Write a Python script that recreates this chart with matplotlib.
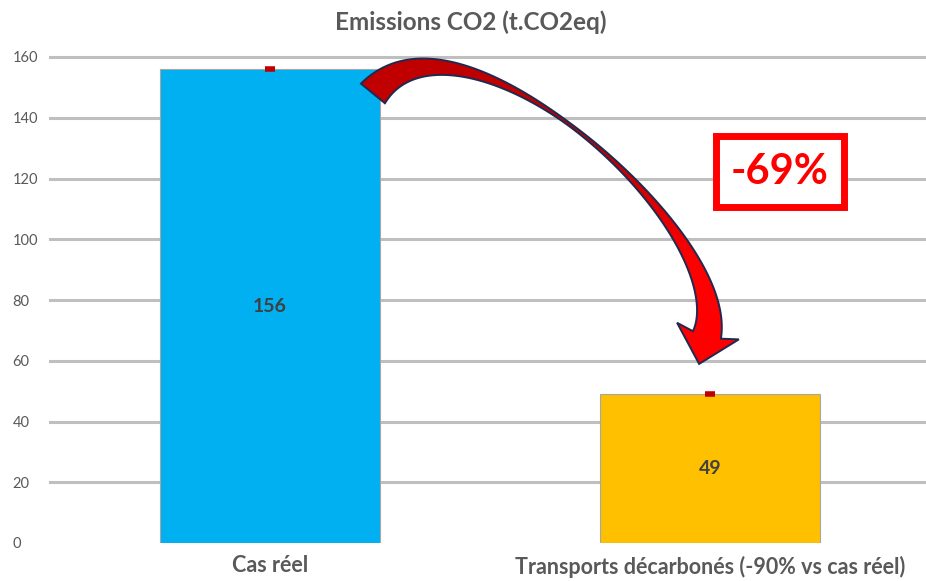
import numpy as np
import matplotlib.pyplot as plt
from matplotlib.patches import Polygon, Rectangle
from matplotlib.colors import LinearSegmentedColormap

# data
categories = ["Cas réel", "Transports décarbonés (-90% vs cas réel)"]
emissions = [156, 49]
bar_colors = ["#00b0f0", "#ffc000"]
yticks = [0, 20, 40, 60, 80, 100, 120, 140, 160]
title = "Emissions CO2 (t.CO2eq)"
reduction_label = "-69%"

plt.rcParams['font.family'] = ['Lato', 'DejaVu Sans']
GRAY = "#595959"


def bezier(p, t):
    t = t[:, None]
    return ((1-t)**3*p[0] + 3*(1-t)**2*t*p[1] + 3*(1-t)*t**2*p[2] + t**3*p[3])


def bezier_d(p, t):
    t = t[:, None]
    return (3*(1-t)**2*(p[1]-p[0]) + 6*(1-t)*t*(p[2]-p[1]) + 3*t**2*(p[3]-p[2]))


def curved_arrow(ax, pts_data):
    # build a tapered curved block arrow in pixel space, then go back to data
    p = ax.transData.transform(np.array(pts_data))
    t = np.linspace(0, 1, 200)
    c = bezier(p, t)
    d = bezier_d(p, t)
    d = d/np.linalg.norm(d, axis=1)[:, None]
    n = np.column_stack([-d[:, 1], d[:, 0]])
    tm = 0.47
    w = np.where(t < tm, 3 + 28*((tm-t)/tm)**1.6, 3 + 26*((t-tm)/(1-tm))**1.8)
    left = c + n*w[:, None]/2
    right = c - n*w[:, None]/2
    end, de, ne = c[-1], d[-1], n[-1]
    head = [end + ne*32 - de*4, end + de*30, end - ne*32 - de*4]
    poly = np.vstack([left, head, right[::-1]])
    poly = ax.transData.inverted().transform(poly)

    outline = Polygon(poly, closed=True, facecolor="none", edgecolor="#1f2a50",
                      lw=1.4, zorder=7)
    ax.add_patch(outline)
    clip = Polygon(poly, closed=True, facecolor="none", edgecolor="none")
    ax.add_patch(clip)
    cmap = LinearSegmentedColormap.from_list("red", ["#c00000", "#c40000", "#ff0000", "#ff0000"])
    grad = np.linspace(0, 1, 256)[:, None]
    x0, x1 = poly[:, 0].min(), poly[:, 0].max()
    y0, y1 = poly[:, 1].min(), poly[:, 1].max()
    im = ax.imshow(grad, extent=[x0, x1, y0, y1], origin="upper", cmap=cmap,
                   aspect="auto", zorder=6, interpolation="bilinear")
    im.set_clip_path(clip)


fig = plt.figure(figsize=(9.26, 5.81), dpi=100)
ax = fig.add_axes([50/926, 38/581, 880/926, 486/581])

x = np.arange(len(categories))
ax.bar(x, emissions, width=0.5, color=bar_colors, edgecolor="#a6a6a6",
       linewidth=0.8, zorder=3)
ax.plot(x, emissions, ls="none", marker="_", ms=7, mew=4, color="#c00000", zorder=4)
for xi, v in zip(x, emissions):
    ax.text(xi, v/2, str(v), ha="center", va="center", fontsize=14,
            fontweight="bold", color="#404040", zorder=5)

ax.set_xlim(-0.5, 1.5)
ax.set_ylim(0, 160)
ax.set_yticks(yticks)
ax.set_xticks(x, categories)
for s in ax.spines.values():
    s.set_visible(False)

ax.yaxis.grid(True, color="#bfbfbf", lw=2.2)
ax.set_axisbelow(True)
glines = ax.get_ygridlines()
glines[0].set_visible(False)
for gl in glines:
    gl.set_clip_on(False)

ax.tick_params(axis="y", length=0, pad=27, labelsize=10.5, labelcolor=GRAY)
for lab in ax.get_yticklabels():
    lab.set_ha("left")
ax.tick_params(axis="x", length=0, pad=9, labelsize=15.5, labelcolor=GRAY)
for lab in ax.get_xticklabels():
    lab.set_fontweight("bold")

fig.text(471/926, 1-22/581, title, ha="center", va="center", fontsize=17.5,
         fontweight="bold", color=GRAY)

# curved arrow from first bar to second
arrow_pts = [(0.234, emissions[0]-8), (0.432, emissions[0]+27),
             (1.057, emissions[1]+54), (0.993, emissions[1]+19.5)]
curved_arrow(ax, arrow_pts)
ax.set_xlim(-0.5, 1.5)
ax.set_ylim(0, 160)

ax.add_patch(Rectangle((0.7563, 0.691), 0.1455, 0.1461, transform=ax.transAxes,
                       facecolor="white", edgecolor="#ff0000", lw=5, zorder=8))
ax.text(0.829, 0.764, reduction_label, transform=ax.transAxes, ha="center",
        va="center", fontsize=30, fontweight="bold", color="#ff0000", zorder=9)

fig.savefig("out.png", dpi=100)
